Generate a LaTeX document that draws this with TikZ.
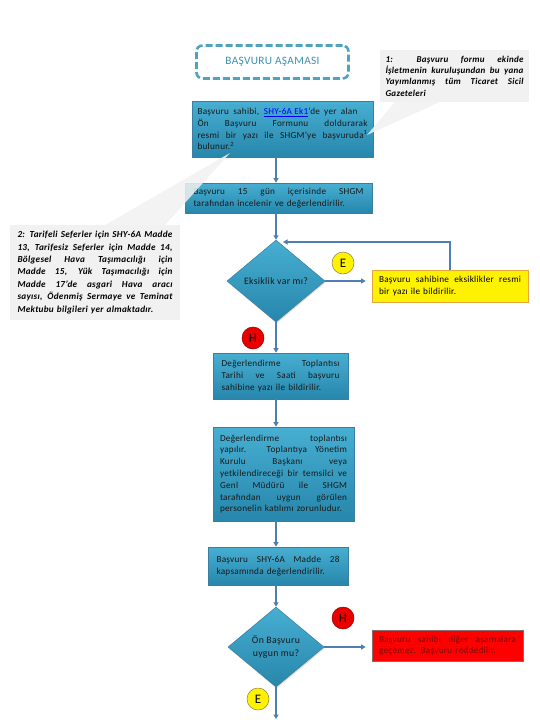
\documentclass[tikz,border=0pt]{standalone}
\usepackage{fontspec}
\usepackage{graphicx}
\setmainfont{Carlito}[LetterSpace=3]
\usetikzlibrary{shapes.geometric,arrows.meta,shadows}
\definecolor{btop}{HTML}{47AFD2}
\definecolor{bbot}{HTML}{2786AB}
\definecolor{bdraw}{HTML}{3C7EA2}
\definecolor{conn}{HTML}{4F7FB0}
\definecolor{titlecol}{HTML}{3C8FAE}
\definecolor{titleline}{HTML}{4FA3BF}
\definecolor{notegray}{HTML}{F1F1F1}
\definecolor{linkblue}{HTML}{0000FF}
\definecolor{redtext}{HTML}{7E0808}
\definecolor{yelborder}{HTML}{E3A73A}
\definecolor{redborder}{HTML}{8A6A6A}
\newsavebox\jlbox
\newcommand\jl[1]{\leavevmode\sbox\jlbox{\spaceskip=0pt\xspaceskip=0pt #1}%
  \ifdim\wd\jlbox>\hsize\resizebox{\hsize}{\height}{\usebox\jlbox}%
  \else\hbox to \hsize{\spaceskip=0pt\xspaceskip=0pt #1}\fi}
\newcommand\boxfont{\fontsize{9.2}{11.8}\selectfont}
\tikzset{
  bluebox/.style={draw=bdraw, line width=0.6pt, top color=btop, bottom color=bbot,
    inner xsep=0pt, inner ysep=2pt, font=\boxfont, align=left, text=black!90,
    drop shadow={shadow xshift=0.6pt, shadow yshift=-1.4pt, opacity=0.3}},
  decision/.style={diamond, draw=bdraw, line width=0.5pt, top color=btop, bottom color=bbot,
    inner sep=0pt, font=\fontsize{9.8}{12.5}\selectfont, align=center, text=black!90,
    drop shadow={shadow xshift=0.6pt, shadow yshift=-1.4pt, opacity=0.3}},
  notebox/.style={fill=notegray, inner xsep=0pt, inner ysep=2pt, align=left,
    font=\bfseries\itshape\fontsize{9}{11.4}\selectfont},
  callout/.style={fill=notegray, opacity=0.85},
  titlebox/.style={draw=titleline, fill=white, line width=2.6pt, dash pattern=on 7pt off 3pt,
    rounded corners=6pt, minimum width=152pt, minimum height=33pt, text=titlecol,
    font=\fontsize{11.3}{12}\selectfont},
  yelbox/.style={fill=yellow, draw=yelborder, line width=0.7pt, inner xsep=0pt, inner ysep=2pt,
    font=\boxfont, align=left},
  redbox/.style={fill=red, draw=redborder, line width=0.7pt, inner xsep=0pt, inner ysep=2pt,
    font=\boxfont, align=left, text=redtext},
  yes/.style={circle, fill=yellow, draw=black!55!yellow, line width=0.5pt, minimum size=22pt,
    inner sep=0pt, font=\fontsize{13}{13}\selectfont},
  no/.style={circle, fill=red!92!black, draw=red!55!black, line width=0.5pt, minimum size=22pt,
    inner sep=0pt, font=\fontsize{13}{13}\selectfont},
  conn/.style={draw=conn, line width=1.4pt, -{Triangle[length=4.5pt,width=5pt]}},
  plain/.style={draw=conn, line width=1.4pt}
}
\begin{document}
\begin{tikzpicture}[x=1pt,y=-1pt]
\useasboundingbox (0,0) rectangle (540,720);
\coordinate (ax) at (276,0);

% title
\node[titlebox] (title) at (272.5,62) {BAŞVURU AŞAMASI};

% notes
\node[notebox, text width=138pt, minimum width=149pt, minimum height=52pt] (note1) at (454.5,76)
  {\jl{1: Başvuru formu ekinde}\\
   \jl{İşletmenin kuruluşundan bu yana}\\
   \jl{Yayımlanmış tüm Ticaret Sicil}\\
   Gazeteleri};
\node[notebox, text width=155pt, minimum width=170pt, minimum height=95pt,
      font=\bfseries\itshape\fontsize{9.2}{12.4}\selectfont] (note2) at (95,272.5)
  {\jl{2: Tarifeli Seferler için SHY-6A Madde}\\
   \jl{13, Tarifesiz Seferler için Madde 14,}\\
   \jl{Bölgesel Hava Taşımacılığı için}\\
   \jl{Madde 15, Yük Taşımacılığı için}\\
   \jl{Madde 17’de asgari Hava aracı}\\
   \jl{sayısı, Ödenmiş Sermaye ve Teminat}\\
   Mektubu bilgileri yer almaktadır.};

% process boxes
\node[bluebox, text width=170pt, minimum width=181pt, minimum height=56pt] (box1) at (282.5,129)
  {\leavevmode\hbox to 160pt{\spaceskip=0pt\xspaceskip=0pt Başvuru sahibi, \textcolor{linkblue}{\underline{SHY-6A Ek1}}’de yer alan}\\
   \jl{Ön Başvuru Formunu doldurarak}\\
   \jl{resmi bir yazı ile SHGM’ye başvuruda\textsuperscript{1}}\\
   bulunur.\textsuperscript{2}};
\node[bluebox, text width=170pt, minimum width=187pt, minimum height=30pt] (box2) at (278.5,198)
  {\jl{Başvuru 15 gün içerisinde SHGM}\\
   tarafından incelenir ve değerlendirilir.};
\node[decision, minimum width=98pt, minimum height=82pt] (d1) at (276,281)
  {Eksiklik var mı?};
\node[yelbox, text width=142pt, minimum width=156pt, minimum height=32pt] (yb) at (450,286)
  {\jl{Başvuru sahibine eksiklikler resmi}\\
   bir yazı ile bildirilir.};
\node[bluebox, text width=118pt, minimum width=135pt, minimum height=46pt] (box3) at (280.5,376)
  {\jl{Değerlendirme Toplantısı}\\
   \jl{Tarihi ve Saati başvuru}\\
   sahibine yazı ile bildirilir.};
\node[bluebox, text width=127pt, minimum width=141pt, minimum height=94pt] (box4) at (283.5,474)
  {\jl{Değerlendirme toplantısı}\\
   \jl{yapılır. Toplantıya Yönetim}\\
   \jl{Kurulu Başkanı veya}\\
   \jl{yetkilendireceği bir temsilci ve}\\
   \jl{Genl Müdürü ile SHGM}\\
   \jl{tarafından uygun görülen}\\
   personelin katılımı zorunludur.};
\node[bluebox, text width=123pt, minimum width=140pt, minimum height=38pt] (box5) at (278,566)
  {\jl{Başvuru SHY-6A Madde 28}\\
   kapsamında değerlendirilir.};
\node[decision, minimum width=96pt, minimum height=80pt] (d2) at (276,647)
  {Ön Başvuru\\uygun mu?};
\node[redbox, text width=137pt, minimum width=151pt, minimum height=31pt] (rb) at (447.5,645.5)
  {\jl{Başvuru sahibi diğer aşamalara}\\
   geçemez. Başvuru reddedilir.};

% callouts
\fill[callout] (395,102) -- (440,102) -- (367,135) -- cycle;
\fill[callout] (105,225) -- (165,225) -- (230,153) -- cycle;

% connectors
\coordinate (loopend) at (283,242);
\coordinate (endpt) at (276,719);
\draw[conn] (box1.south -| ax) -- (box2.north -| ax);
\draw[conn] (box2.south -| ax) -- (d1.north);
\draw[conn, shorten >=6pt] (d1.east) -- (d1.east -| yb.west);
\draw[conn] (yb.north) |- (loopend);
\draw[conn] (d1.south) -- (box3.north -| ax);
\draw[conn] (box3.south -| ax) -- (box4.north -| ax);
\draw[conn] (box4.south -| ax) -- (box5.north -| ax);
\draw[conn] (box5.south -| ax) -- (d2.north);
\draw[conn, shorten >=6pt] (d2.east) -- (d2.east -| rb.west);
\draw[conn] (d2.south) -- (endpt);

% yes / no markers
\node[yes] (e1) at (343,263) {E};
\node[no] (h1) at (253,338) {H};
\node[no] (h2) at (343,618) {H};
\node[yes] (e2) at (258,699) {E};
\end{tikzpicture}
\end{document}
